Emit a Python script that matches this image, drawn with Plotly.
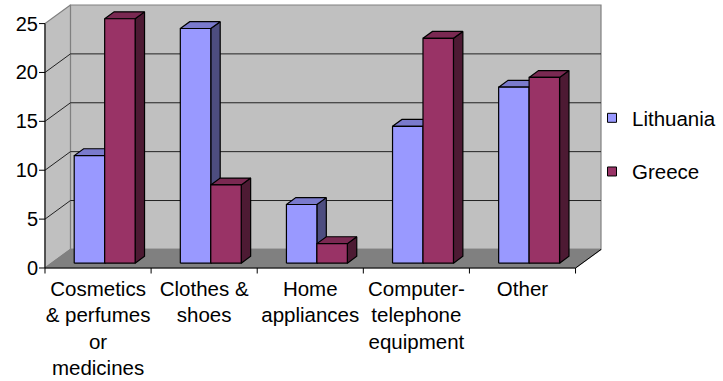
import plotly.graph_objects as go

# ---- data -------------------------------------------------------------
categories = [
    "Cosmetics<br>& perfumes<br>or<br>medicines",
    "Clothes &<br>shoes",
    "Home<br>appliances",
    "Computer-<br>telephone<br>equipment",
    "Other",
]
series_names = ["Lithuania", "Greece"]
lithuania = [11, 24, 6, 14, 18]
greece = [25, 8, 2, 23, 19]
y_ticks = [0, 5, 10, 15, 20, 25]

# ---- 3-D projection parameters (in axis units) -------------------------
DX, DY = 0.240, 1.90        # full depth of the box
FRONT = 0.26                # depth fraction where bar fronts sit
BAR_DEPTH = 0.37            # depth of each bar (fraction of box depth)
BAR_W = 0.287               # width of one bar
YMAX = 25

colors = {
    "Lithuania": ("#9999FF", "#7A7ACC", "#4D4D80"),
    "Greece": ("#993366", "#7A2952", "#4D1A33"),
}

FONT = "Liberation Sans, Arial, sans-serif"
fig = go.Figure()


def poly(xs, ys, fill, line="black", width=1.2):
    fig.add_trace(go.Scatter(
        x=list(xs) + [xs[0]], y=list(ys) + [ys[0]], mode="lines",
        fill="toself", fillcolor=fill, line=dict(color=line, width=width),
        hoverinfo="skip", showlegend=False))


def seg(x0, y0, x1, y1, color="black", width=1.0):
    fig.add_trace(go.Scatter(
        x=[x0, x1], y=[y0, y1], mode="lines",
        line=dict(color=color, width=width),
        hoverinfo="skip", showlegend=False))


n = len(categories)
xl, xr = -0.5, n - 0.5

# walls and floor
poly([xl + DX, xr + DX, xr + DX, xl + DX], [DY, DY, YMAX + DY, YMAX + DY],
     "#C0C0C0", line="#808080")
poly([xl, xl + DX, xl + DX, xl], [0, DY, YMAX + DY, YMAX], "#C0C0C0", line="#808080")
poly([xl, xr, xr + DX, xl + DX], [0, 0, DY, DY], "#808080", line="#808080")

# gridlines on back and side walls
for v in y_ticks[1:-1]:
    seg(xl + DX, v + DY, xr + DX, v + DY, color="#222222")
    seg(xl, v, xl + DX, v + DY, color="#222222")

# axis lines
seg(xl, 0, xl, YMAX)
seg(xl, 0, xr, 0)
seg(xr, 0, xr + DX, DY)

# tick marks
TX = 6 / 106.3
TY = 5.5 / 9.76
for v in y_ticks:
    seg(xl - TX, v, xl, v)
for i in range(n + 1):
    seg(xl + i, 0, xl + i, -TY)

# bars
series = {"Lithuania": lithuania, "Greece": greece}
fx, fy = FRONT * DX, FRONT * DY
bx, by = BAR_DEPTH * DX, BAR_DEPTH * DY
for c in range(n):
    for k, name in enumerate(series_names):
        v = series[name][c]
        front, top, side = colors[name]
        x0 = c - BAR_W + k * BAR_W + fx
        x1 = x0 + BAR_W
        yb, yt = fy, fy + v
        poly([x1, x1, x1 + bx, x1 + bx], [yb, yt, yt + by, yb + by], side)
        poly([x0, x1, x1 + bx, x0 + bx], [yt, yt, yt + by, yt + by], top)
        poly([x0, x1, x1, x0], [yb, yb, yt, yt], front)

# legend entries
for name in series_names:
    fig.add_trace(go.Scatter(
        x=[None], y=[None], mode="markers", name=name, legendgroup=name,
        marker=dict(symbol="square", size=9, color=colors[name][0],
                    line=dict(color="black", width=1))))

fig.update_layout(
    width=723, height=381,
    margin=dict(l=39, r=121, t=4, b=107, autoexpand=False),
    paper_bgcolor="white", plot_bgcolor="white",
    font=dict(family=FONT, size=20, color="black"),
    showlegend=True,
    legend=dict(xref="container", yref="container", x=592 / 723, y=1 - 98 / 381,
                xanchor="left", yanchor="top", tracegroupgap=24,
                font=dict(size=20.5), bgcolor="rgba(0,0,0,0)"),
    xaxis=dict(range=[xl - 6 / 106.3, xr + DX + 1 / 106.3],
               tickvals=list(range(n)), ticktext=categories, automargin=False,
               showgrid=False, zeroline=False, showline=False, ticks="",
               tickfont=dict(size=20.5), fixedrange=True),
    yaxis=dict(range=[-6 / 9.76, YMAX + DY + 1 / 9.76],
               tickvals=y_ticks, ticktext=[str(t) for t in y_ticks], automargin=False,
               showgrid=False, zeroline=False, showline=False, ticks="",
               tickfont=dict(size=20), fixedrange=True),
)

fig.write_html("out.html")
